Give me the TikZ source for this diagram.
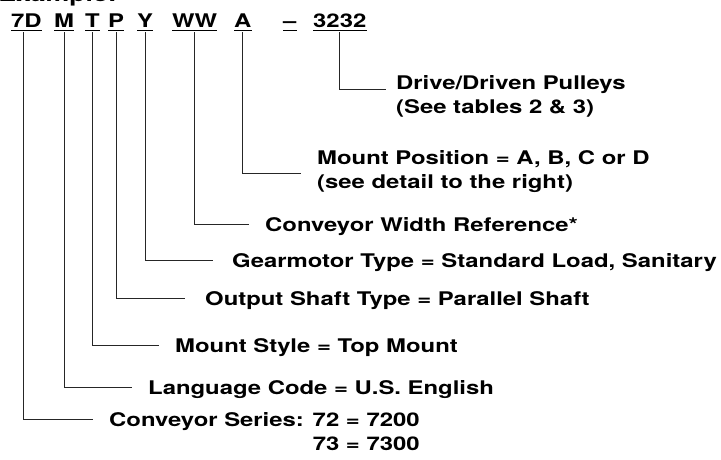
\documentclass[tikz,border=0pt]{standalone}
\usepackage{fontspec}
\setmainfont{TeX Gyre Heros}[FakeStretch=1.27]
\usetikzlibrary{positioning}

\tikzset{
  uline/.style={draw=black, line width=1.4pt},
  code/.style={anchor=base west, inner sep=0pt, text depth=3pt,
    append after command={(\tikzlastnode.south west) edge[uline] (\tikzlastnode.south east)}},
  lbl/.style={anchor=base west, inner sep=0pt, align=left},
  lead/.style={draw=black!85, line width=0.9pt, shorten <=2pt, shorten >=16pt}
}

\begin{document}
\begin{tikzpicture}[x=1pt, y=-1pt, font=\fontsize{18.8}{24}\selectfont\bfseries]

  \useasboundingbox (0,0) rectangle (721,459);

  \node[anchor=base east, inner sep=0pt, font=\fontsize{21}{25}\selectfont\bfseries] (title) at (117,1) {Example:};

  % the order code
  \node[code] (c7D)   at (11,27)  {7D};
  \node[code] (cM)    at (54,27)  {M};
  \node[code] (cT)    at (85,27)  {T};
  \node[code] (cP)    at (108,27) {P};
  \node[code] (cY)    at (137,27) {Y};
  \node[code] (cWW)   at (172,27) {WW};
  \node[code] (cA)    at (234,27) {A};
  \node[code] (cDash) at (283,27) {–};
  \node[code] (c3232) at (313,27) {3232};

  % what each part means (base = last line)
  \node[lbl] (lDrive)  at (396,113) {Drive/Driven Pulleys\\(See tables 2 \& 3)};
  \node[lbl] (lMount)  at (317,188) {Mount Position = A, B, C or D\\(see detail to the right)};
  \node[lbl] (lWidth)  at (265,231) {Conveyor Width Reference*};
  \node[lbl] (lGear)   at (232,267) {Gearmotor Type = Standard Load, Sanitary};
  \node[lbl] (lShaft)  at (205,305) {Output Shaft Type = Parallel Shaft};
  \node[lbl] (lStyle)  at (175,352) {Mount Style = Top Mount};
  \node[lbl] (lLang)   at (148,394) {Language Code = U.S. English};
  \node[lbl] (lSeries) at (109,450) {Conveyor Series: 72 = 7200\\\phantom{Conveyor Series: }73 = 7300};

  \draw[lead, shorten >=10pt] (c3232.south) |- ([yshift=24pt]lDrive.base west);
  \draw[lead] (cA.south)   |- ([yshift=15pt]lMount.base west);
  \draw[lead] (cWW.south)  |- ([yshift=7pt]lWidth.base west);
  \draw[lead, shorten >=19pt] (cY.south)   |- ([yshift=7pt]lGear.base west);
  \draw[lead, shorten >=20pt] (cP.south)   |- ([yshift=7pt]lShaft.base west);
  \draw[lead] (cT.south)   |- ([yshift=7pt]lStyle.base west);
  \draw[lead] (cM.south)   |- ([yshift=7pt]lLang.base west);
  \draw[lead] ([xshift=-3pt]c7D.south) |- ([yshift=31pt]lSeries.base west);

\end{tikzpicture}
\end{document}
